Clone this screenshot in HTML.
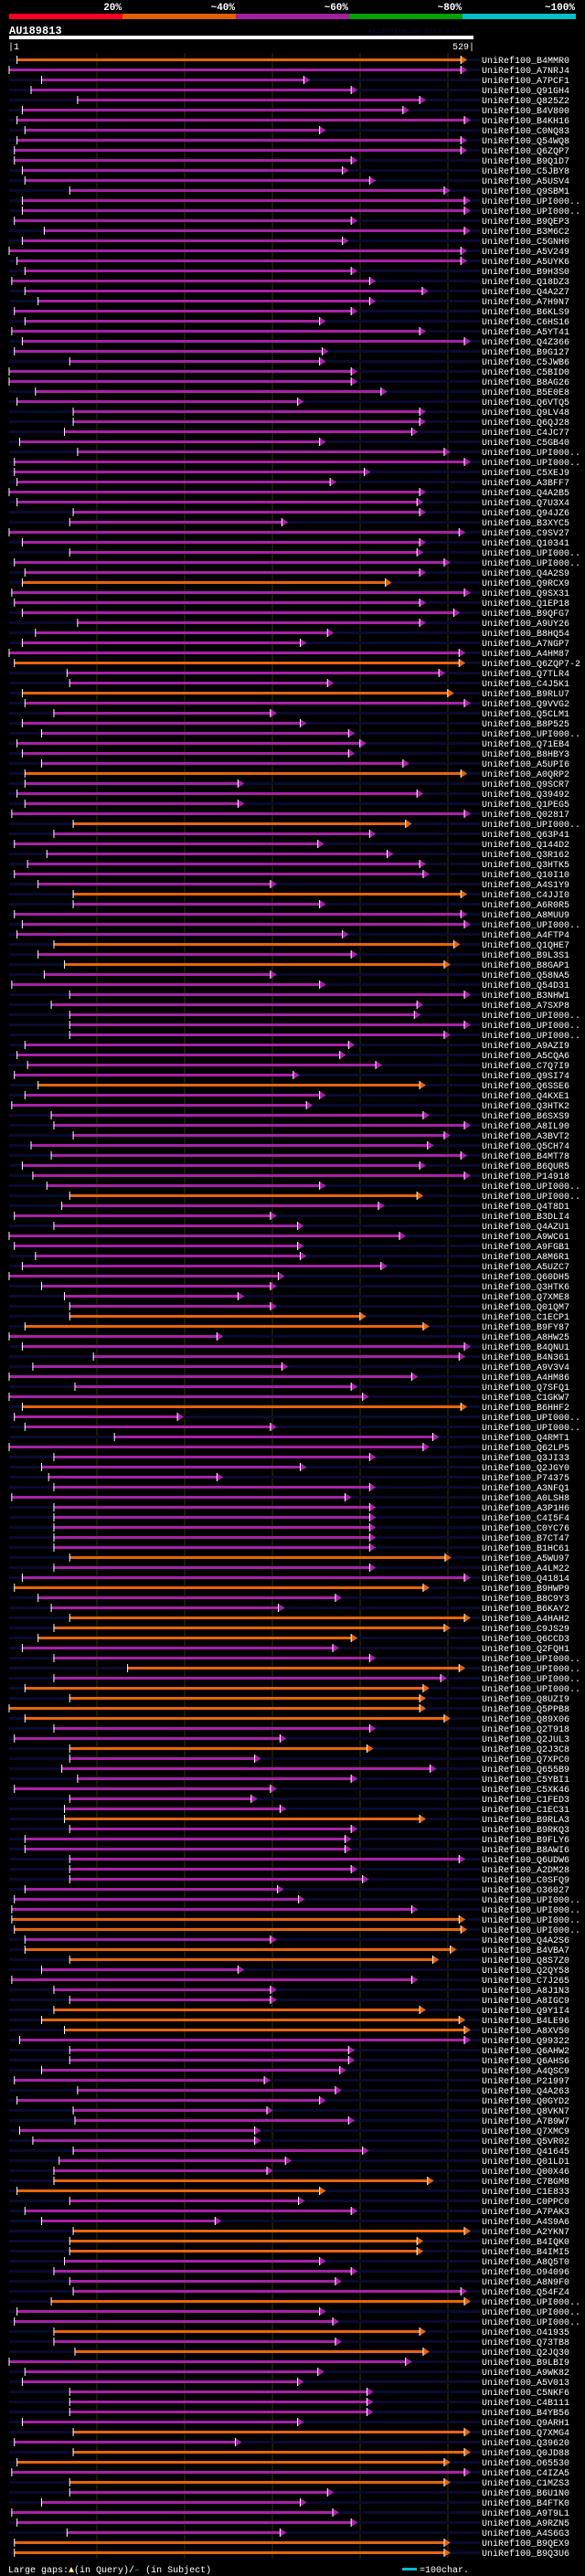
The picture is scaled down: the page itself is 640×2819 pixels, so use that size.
<!DOCTYPE html>
<html><head><meta charset="utf-8">
<style>
html,body{margin:0;padding:0;background:#000;}
svg{display:block;}
text{font-family:"Liberation Mono",monospace;}
</style></head>
<body>
<svg id="chart" width="640" height="2819" viewBox="0 0 640 2819" xmlns="http://www.w3.org/2000/svg">
  <rect x="0" y="0" width="640" height="2819" fill="#000"/>
  <g>
    <rect x="10" y="15" width="124" height="6" fill="#ff0022"/>
    <rect x="134" y="15" width="124" height="6" fill="#e06000"/>
    <rect x="258" y="15" width="124" height="6" fill="#a020a0"/>
    <rect x="382" y="15" width="124" height="6" fill="#00a000"/>
    <rect x="506" y="15" width="124" height="6" fill="#00c0c8"/>
    <text x="133" y="11" fill="#fff" font-size="11" font-weight="bold" text-anchor="end">20%</text>
    <text x="257" y="11" fill="#fff" font-size="11" font-weight="bold" text-anchor="end">~40%</text>
    <text x="381" y="11" fill="#fff" font-size="11" font-weight="bold" text-anchor="end">~60%</text>
    <text x="505" y="11" fill="#fff" font-size="11" font-weight="bold" text-anchor="end">~80%</text>
    <text x="629" y="11" fill="#fff" font-size="11" font-weight="bold" text-anchor="end">~100%</text>
  </g>
  <text x="10" y="37" fill="#fff" font-size="12" font-weight="bold">AU189813</text>
  <text x="402" y="36" fill="#0a0a38" font-size="8">AlignView.pm Beta rel.7</text>
  <rect x="10" y="39" width="508" height="4" fill="#fff"/>
  <text x="9" y="54" fill="#fff" font-size="10">|1</text>
  <text x="519" y="54" fill="#fff" font-size="10" text-anchor="end">529|</text>
  <g id="grid"></g>
  <g id="rows"></g>
  <g>
    <text x="9" y="2815" fill="#fff" font-size="10">Large gaps:<tspan fill="#ffff80">▲</tspan>(in Query)/<tspan fill="#00c0c8">–</tspan> (in Subject)</text>
    <rect x="440" y="2810" width="16" height="3" fill="#00c0c8"/>
    <text x="459" y="2815" fill="#fff" font-size="10">=100char.</text>
  </g>
</svg>
<script>
const hitNames = ["B4MMR0","A7NRJ4","A7PCF1","Q91GH4","Q825Z2","B4V800","B4KH16","C0NQ83","Q54WQ8","Q6ZQP7","B9Q1D7","C5JBY8","A5USV4","Q9SBM1","UPI000..","UPI000..","B9QEP3","B3M6C2","C5GNH0","A5V249","A5UYK6","B9H3S0","Q18DZ3","Q4A2Z7","A7H9N7","B6KLS9","C6HS16","A5YT41","Q4Z366","B9G127","C5JWB6","C5BID0","B8AG26","B5E0E8","Q6VTQ5","Q9LV48","Q6QJ28","C4JC77","C5GB40","UPI000..","UPI000..","C5XEJ9","A3BFF7","Q4A2B5","Q7U3X4","Q94JZ6","B3XYC5","C9SV27","Q10341","UPI000..","UPI000..","Q4A2S9","Q9RCX9","Q9SX31","Q1EP18","B9QFG7","A9UY26","B8HQ54","A7NGP7","A4HM87","Q6ZQP7-2","Q7TLR4",
"C4J5K1","B9RLU7","Q9VVG2","Q5CLM1","B8P525","UPI000..","Q71EB4","B8HBY3","A5UPI6","A0QRP2","Q9SCR7","Q39492","Q1PEG5","Q02817","UPI000..","Q63P41","Q144D2","Q3R162","Q3HTK5","Q10I10","A4S1Y9","C4JJI0","A6R0R5","A8MUU9","UPI000..","A4FTP4","Q1QHE7","B9L3S1","B8GAP1","Q58NA5","Q54D31","B3NHW1","A7SXP8","UPI000..","UPI000..","UPI000..","A9AZI9","A5CQA6","C7Q7I9","Q9SI74","Q6SSE6","Q4KXE1","Q3HTK2","B6SXS9","A8IL90","A3BVT2","Q5CH74","B4MT78","B6QUR5","P14918","UPI000..","UPI000..","Q4T8D1","B3DLI4","Q4AZU1","A9WC61","A9FGB1","A8M6R1","A5UZC7","Q60DH5","Q3HTK6","Q7XME8",
"Q01QM7","C1ECP1","B9FY87","A8HW25","B4QNU1","B4N361","A9V3V4","A4HM86","Q7SFQ1","C1GKW7","B6HHF2","UPI000..","UPI000..","Q4RMT1","Q62LP5","Q3JI33","Q2JGY0","P74375","A3NFQ1","A0LSH8","A3P1H6","C4I5F4","C0YC76","B7CT47","B1HC61","A5WU97","A4LM22","Q41814","B9HWP9","B8C9Y3","B6KAY2","A4HAH2","C9JS29","Q6CCD3","Q2FQH1","UPI000..","UPI000..","UPI000..","UPI000..","Q8UZI9","Q5PPB8","Q89X06","Q2T918","Q2JUL3","Q2J3C8","Q7XPC0","Q655B9","C5YBI1","C5XK46","C1FED3","C1EC31","B9RLA3","B9RKQ3","B9FLY6","B8AWI6","Q6UDW6","A2DM28","C0SFQ9","O36027","UPI000..","UPI000..","UPI000..","UPI000..",
"Q4A2S6","B4VBA7","Q8S7Z0","Q2QY58","C7J265","A8J1N3","A8IGC9","Q9Y1I4","B4LE96","A8XV50","Q99322","Q6AHW2","Q6AHS6","A4QSC9","P21997","Q4A263","Q0GYD2","Q8VKN7","A7B9W7","Q7XMC9","Q5VR02","Q41645","Q01LD1","Q00X46","C7BGM8","C1E833","C0PPC0","A7PAK3","A4S9A6","A2YKN7","B4IQK0","B4IMI5","A8Q5T0","O94096","A8N9F0","Q54FZ4","UPI000..","UPI000..","UPI000..","O41935","Q73TB8","Q2JQ30","B9LBI9","A9WK82","A5V013","C5NKF6","C4B111","B4YB56","Q9ARH1","Q7XMG4","Q39620","Q0JD88","O65530","C4IZA5","C1MZS3","B6U1N0","B4FTK0","A9T9L1","A9RZN5","A4S6G3","B9QEX9","B9Q3U6"];
const hitStarts = [9,0,37,25,78,15,9,18,9,6,6,15,18,69,15,15,6,40,15,0,9,18,3,18,33,6,18,3,15,6,69,0,0,30,9,73,73,63,12,78,6,6,9,0,9,73,69,0,15,69,6,18,15,3,6,15,78,30,15,0,6,66,
69,15,18,51,15,37,9,15,37,18,18,9,18,3,73,51,6,43,21,6,33,73,73,6,15,9,51,33,63,40,3,69,48,69,69,69,18,9,21,6,33,18,3,48,51,73,25,48,15,27,43,69,60,6,51,0,6,30,15,0,37,63,
69,69,18,0,15,96,27,0,75,0,15,6,18,120,0,51,37,45,51,3,51,51,51,51,51,69,51,15,6,33,48,69,51,33,15,51,135,51,18,69,0,18,51,6,69,69,60,78,6,69,63,63,69,18,18,69,69,69,18,6,3,3,6,
18,18,69,37,3,51,69,51,37,63,12,69,69,37,6,78,9,73,75,12,27,73,57,51,51,9,69,18,37,73,69,69,63,51,69,73,48,9,6,51,51,75,0,18,15,69,69,69,15,73,6,73,9,3,69,69,37,3,9,66,6,6];
const hitEnds = [521,521,342,396,474,455,525,360,521,521,396,386,417,502,525,525,396,525,386,521,521,396,417,477,417,396,360,474,525,363,360,396,396,430,335,474,474,465,360,502,525,411,372,474,471,474,317,519,474,471,502,474,435,525,474,513,474,369,338,519,519,496,
369,506,525,304,338,393,406,393,455,521,267,471,267,525,458,417,358,437,474,478,304,521,360,521,525,386,513,396,502,304,360,525,471,468,525,502,393,383,424,330,474,360,345,478,525,502,483,521,474,525,360,471,427,304,335,451,335,338,430,313,304,267,
304,406,478,243,525,519,317,465,396,409,521,198,304,489,478,417,338,243,417,389,417,417,417,417,417,503,417,525,478,378,313,525,502,396,375,417,519,498,478,474,474,502,417,315,414,286,486,396,304,282,315,474,396,389,389,519,396,409,312,336,465,519,521,
304,509,489,267,465,304,304,474,519,525,525,393,393,383,297,378,360,300,393,286,286,409,321,300,483,360,336,396,241,525,471,471,360,396,378,521,525,360,375,474,378,478,458,358,335,414,414,414,335,525,264,525,502,525,502,369,338,375,396,315,502,502];
const hitColors = ["O","M","M","M","M","M","M","M","M","M","M","M","M","M","M","M","M","M","M","M","M","M","M","M","M","M","M","M","M","M","M","M","M","M","M","M","M","M","M","M","M","M","M","M","M","M","M","M","M","M","M","M","O","M","M","M","M","M","M","M","O","M",
"M","O","M","M","M","M","M","M","M","O","M","M","M","M","O","M","M","M","M","M","M","O","M","M","M","M","O","M","O","M","M","M","M","M","M","M","M","M","M","M","O","M","M","M","M","M","M","M","M","M","M","O","M","M","M","M","M","M","M","M","M","M",
"M","O","O","M","M","M","M","M","M","M","O","M","M","M","M","M","M","M","M","M","M","M","M","M","M","O","M","M","O","M","M","O","O","O","M","M","O","M","O","O","O","O","M","M","O","M","M","M","M","M","M","O","M","M","M","M","M","M","M","M","M","O","O",
"M","O","O","M","M","M","M","O","O","O","M","M","M","M","M","M","M","M","M","M","M","M","M","M","O","O","M","M","M","O","O","O","M","M","M","M","O","M","M","O","M","O","M","M","M","M","M","M","M","O","M","O","O","M","O","M","M","M","M","M","O","O"];

const NS = "http://www.w3.org/2000/svg";
const X0 = 10, PX_PER_CHAR = 0.96, ROW0 = 65.5, PITCH = 11;
const xScale = c => X0 + c * PX_PER_CHAR;
const yScale = i => ROW0 + i * PITCH;
const colorMap = {O: "#e8640c", M: "#a821a8"};
function mk(tag, attrs, parent) {
  const el = document.createElementNS(NS, tag);
  for (const k in attrs) el.setAttribute(k, attrs[k]);
  parent.appendChild(el);
  return el;
}
const grid = document.getElementById("grid");
const gridTicks = [100, 200, 300, 400, 500];
gridTicks.forEach(t => {
  const ln = mk("line", {x1: xScale(t), x2: xScale(t), y1: 58, y2: 2800, stroke: "#34340c", "stroke-width": 1}, grid);
  
  
});
const rows = document.getElementById("rows");
hitNames.forEach((nm, i) => {
  const y = yScale(i);
  const g = mk("g", {}, rows);
  
  
  const bg = mk("rect", {x: 10, y: y - 1.5, width: 515, height: 3, fill: "#0a0a30"}, g);
  
  
  const xs = xScale(hitStarts[i]), xe = xScale(hitEnds[i]);
  const col = colorMap[hitColors[i]];
  const bar = mk("rect", {x: xs, y: y - 1.5, width: Math.max(1, xe - 6 - xs), height: 3, fill: col}, g);
  
  
  const tick = mk("rect", {x: xs - 0.5, y: y - 4.5, width: 1, height: 9, fill: "#fff"}, g);
  
  
  const arr = mk("polygon", {points: (xe - 6) + "," + (y - 4.5) + " " + (xe + 1) + "," + y + " " + (xe - 6) + "," + (y + 4.5), fill: col}, g);
  
  
  const edge = mk("rect", {x: xe - 6.5, y: y - 4.5, width: 1, height: 9, fill: "#fff"}, g);
  
  
  const lbl = mk("text", {x: 527, y: y + 3.5, fill: "#fff", "font-size": 10}, g);
  
  
  lbl.textContent = "UniRef100_" + nm;
});
</script>
</body></html>
